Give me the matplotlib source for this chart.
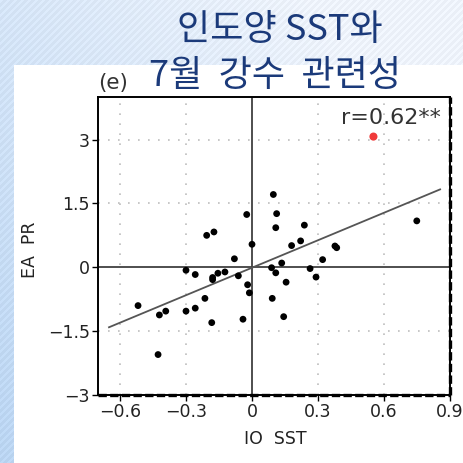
import numpy as np
import matplotlib
matplotlib.use("Agg")
import matplotlib.pyplot as plt

# Indian Ocean SST index vs. East Asia July precipitation (standardized)
io_sst = [-0.024, -0.206, -0.173, 0.000, -0.080, 0.097, 0.112, 0.108, 0.238,
          0.180, 0.221, 0.377, 0.385, 0.749, 0.321, -0.300, -0.258, -0.179,
          -0.179, -0.155, -0.123, -0.062, -0.020, -0.012, -0.214, -0.518,
          -0.421, -0.392, -0.300, -0.258, -0.183, -0.041, -0.427, 0.089,
          0.108, 0.135, 0.155, 0.092, 0.144, 0.264, 0.291]
ea_pr = [1.24, 0.75, 0.83, 0.54, 0.20, 1.71, 1.26, 0.93, 0.99,
         0.51, 0.62, 0.50, 0.46, 1.09, 0.18, -0.07, -0.17, -0.24,
         -0.29, -0.14, -0.11, -0.20, -0.41, -0.60, -0.73, -0.90,
         -1.12, -1.03, -1.03, -0.96, -1.30, -1.22, -2.05, -0.01,
         -0.13, 0.10, -0.35, -0.73, -1.16, -0.03, -0.23]
# highlighted year
hi_sst = [0.552]
hi_pr = [3.07]

corr_text = "r=0.62**"
panel_tag = "(e)"
title_lines = ["인도양 SST와", "7월  강수  관련성"]
xticks = [-0.6, -0.3, 0, 0.3, 0.6, 0.9]
xtick_labels = ["\u22120.6", "\u22120.3", "0", "0.3", "0.6", "0.9"]
yticks = [-3, -1.5, 0, 1.5, 3]
ytick_labels = ["\u22123", "\u22121.5", "0", "1.5", "3"]
fit_range = [-0.65, 0.855]

W, H = 464, 463
fig = plt.figure(figsize=(W / 100, H / 100), dpi=100)

# slide-style backdrop: soft blue gradient with fine diagonal streaks
yy, xx = np.mgrid[0:H, 0:W].astype(float)
w_blue = np.clip(0.6 * (1 - xx / W) + 0.45 * (yy / H) - 0.2, 0, 1)
blue = np.array([0.68, 0.80, 0.93])
light = np.array([0.92, 0.94, 0.97])
bg = light[None, None, :] * (1 - w_blue[..., None]) + blue[None, None, :] * w_blue[..., None]
streak = (((xx + yy) % 7) < 2.5).astype(float)
bg = np.clip(bg + 0.035 * streak[..., None], 0, 1)
bg[65:, 14:, :] = 1.0
bax = fig.add_axes([0, 0, 1, 1], zorder=0)
bax.imshow(bg, extent=[0, W, H, 0], aspect="auto", interpolation="bilinear")
bax.set_xlim(0, W)
bax.set_ylim(H, 0)
bax.axis("off")

ax = fig.add_axes([98 / W, 68 / H, 352 / W, 298 / H], zorder=1)
ax.set_xlim(-0.7, 0.9)
ax.set_ylim(-3, 4)

grid_style = dict(color="#bdbdbd", lw=1.2, linestyle=(0, (1, 5)), zorder=1)
for gx in [-0.6, -0.3, 0.3, 0.6]:
    ax.axvline(gx, **grid_style)
for gy in [-1.5, 1.5, 3]:
    ax.axhline(gy, **grid_style)
ax.axhline(0, color="#404040", lw=1.3, zorder=2)
ax.axvline(0, color="#404040", lw=1.3, zorder=2)

# least-squares fit
slope, intercept = np.polyfit(io_sst + hi_sst, ea_pr + hi_pr, 1)
fx = np.array(fit_range)
ax.plot(fx, slope * fx + intercept, color="#555555", lw=1.3, zorder=3)

ax.scatter(io_sst, ea_pr, s=24, color="black", edgecolors="none", zorder=4)
ax.scatter(hi_sst, hi_pr, s=34, color="#f03a3a", edgecolors="none", zorder=4)

ax.text(0.86, 3.5, corr_text, ha="right", va="center", fontsize=16,
        family="DejaVu Sans", color="#333333")

ax.set_xticks(xticks)
ax.set_xticklabels(xtick_labels)
ax.set_yticks(yticks)
ax.set_yticklabels(ytick_labels)
ax.tick_params(direction="out", length=4, width=1, color="black",
               labelsize=12.5, labelcolor="#222222", pad=2)
for sp in ax.spines.values():
    sp.set_linewidth(1.4)
    sp.set_color("black")
# heavier dashed look along the bottom and right frame
ax.plot([0, 1], [0, 0], transform=ax.transAxes, color="black", lw=2.4,
        linestyle=(0, (2.5, 1)), clip_on=False, zorder=5)
ax.plot([1, 1], [0, 1], transform=ax.transAxes, color="black", lw=2.4,
        linestyle=(0, (2.5, 1)), clip_on=False, zorder=5)

fig.text(275 / W, 1 - 439 / H, "IO  SST", ha="center", va="center",
         fontsize=12.5, color="#222222")
fig.text(30 / W, 1 - 250 / H, "EA  PR", ha="center", va="center",
         rotation=90, fontsize=12.5, color="#222222")
fig.text(98 / W, 1 - 83 / H, panel_tag, ha="left", va="center",
         fontsize=15.5, color="#333333")

title_font = ["Noto Sans CJK KR", "DejaVu Sans"]
fig.text(280 / W, 1 - 30 / H, title_lines[0], ha="center", va="center",
         fontsize=26, family=title_font, weight="light", color="#1b3a7a",
         zorder=10)
fig.text(275 / W, 1 - 76 / H, title_lines[1], ha="center", va="center",
         fontsize=26, family=title_font, weight="light", color="#1b3a7a",
         zorder=10)

fig.savefig("out.png", dpi=100)
